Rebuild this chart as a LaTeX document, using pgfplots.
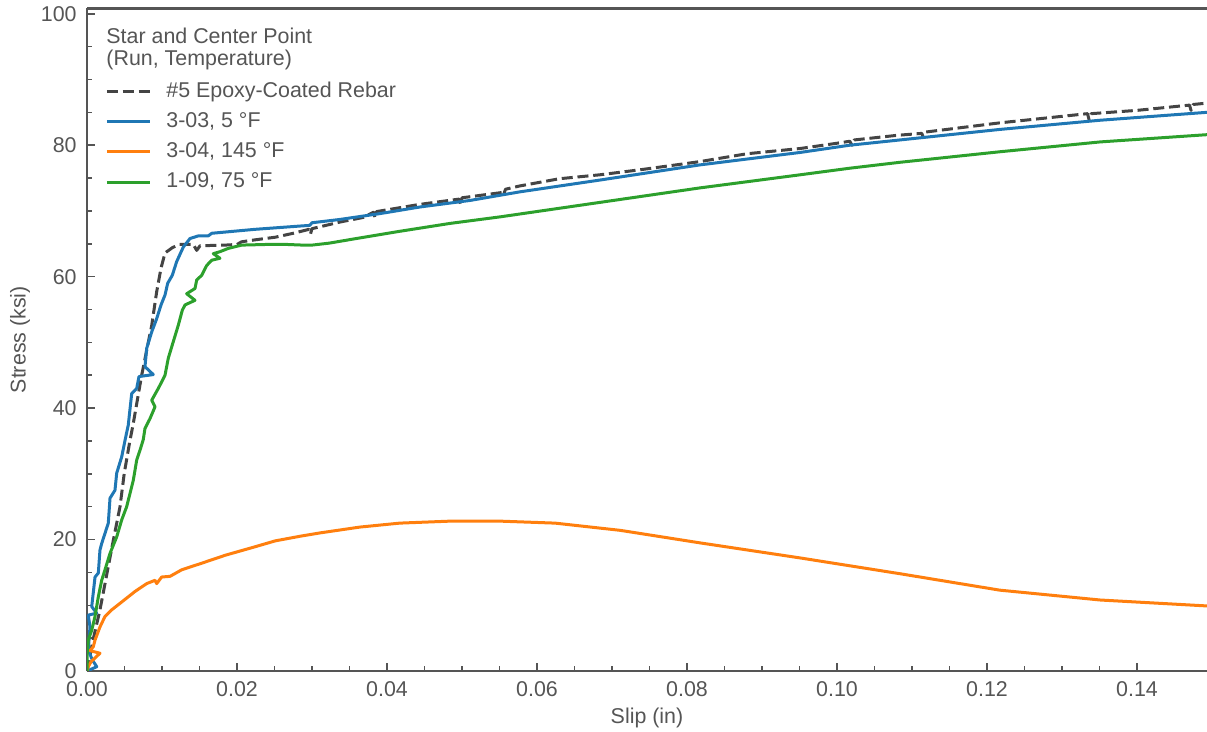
\documentclass[border=0pt]{standalone}
\usepackage{fontspec}
\setmainfont{Liberation Sans}
\usepackage{pgfplots}
\pgfplotsset{compat=1.18}
\definecolor{txt}{HTML}{555555}
\definecolor{spine}{HTML}{555555}
\definecolor{cblue}{HTML}{1F77B4}
\definecolor{corange}{HTML}{FF7F0E}
\definecolor{cgreen}{HTML}{2CA02C}
\definecolor{cdash}{HTML}{444444}
\begin{document}
\fontsize{10.7bp}{12.5bp}\selectfont
\begin{tikzpicture}
\begin{axis}[
  scale only axis, width=560bp, height=331.25bp,
  xmin=0, xmax=0.14933, ymin=0, ymax=100.8,
  axis x line*=box, axis y line*=left,
  xtick pos=left, ytick pos=left,
  axis line style={spine, line width=1.2bp, -},
  xtick={0,0.02,0.04,0.06,0.08,0.10,0.12,0.14},
  xticklabels={0.00,0.02,0.04,0.06,0.08,0.10,0.12,0.14},
  ytick={0,20,40,60,80,100},
  yticklabels={0,20,40,60,80,100},
  minor x tick num=3, minor y tick num=3,
  tick align=inside,
  major tick length=4.25bp, minor tick length=2.5bp,
  every tick/.style={spine, line width=0.75bp},
  scaled x ticks=false, scaled y ticks=false,
  ticklabel style={font=\fontsize{10.7bp}{12bp}\selectfont, text=txt, inner sep=0pt},
  xticklabel style={yshift=-5.3bp},
  yticklabel style={xshift=-5bp},
  xlabel={Slip (in)},
  ylabel={Stress (ksi)},
  xlabel style={at={(axis description cs:0.5,-0.0709)}, anchor=center, inner sep=0pt, text=txt},
  ylabel style={at={(axis description cs:-0.0598,0.5)}, anchor=center, inner sep=0pt, text=txt},
  legend style={at={(axis description cs:0.0161,0.8904)}, anchor=north west, draw=none, fill=none,
     inner sep=0pt, row sep=5.1bp, column sep=7.5bp, text=txt,
     nodes={inner sep=0pt, text height=7.8bp, text depth=2.2bp},
     font=\fontsize{10.7bp}{12bp}\selectfont},
  legend cell align=left,
  legend image code/.code={\draw[#1] (0bp,0bp) -- (21.5bp,0bp);},
  every axis plot/.append style={line width=1.5bp, line join=round},
]
% #5 Epoxy-Coated Rebar
\addplot[cdash, dash pattern=on 5.5bp off 2.4bp] coordinates {
(0,0) (0.0001,0.5) (0.0008,4.7) (0.00173,9.3) (0.00267,14.9) (0.00351,19.9) (0.0044,25.0)
(0.00497,30.1) (0.00573,35.1) (0.00613,37.4) (0.00729,45.0) (0.00863,52.6) (0.00929,57.7)
(0.00987,61.3) (0.0104,63.6) (0.01137,64.4) (0.0123,64.9) (0.01417,64.9) (0.01463,64.0)
(0.01507,64.7) (0.0184,64.8) (0.0200,64.9) (0.0206,65.3) (0.0224,65.6) (0.0251,66.0)
(0.0275,66.6) (0.0296,67.2) (0.0298,66.5) (0.0300,67.3) (0.0337,68.3) (0.0368,69.0)
(0.0382,69.8) (0.0384,69.0) (0.0386,69.9) (0.0444,71.0) (0.0496,71.8) (0.0498,71.0)
(0.0500,72.0) (0.0553,72.8) (0.0555,72.3) (0.0558,73.3) (0.0577,73.8) (0.0630,74.9)
(0.0684,75.5) (0.0740,76.3) (0.0817,77.5) (0.0880,78.7) (0.0951,79.5) (0.1000,80.3)
(0.1017,80.6) (0.1020,80.0) (0.1023,80.8) (0.1080,81.5) (0.1113,81.8) (0.1115,81.2)
(0.1118,82.0) (0.1217,83.4) (0.1334,84.8) (0.1336,83.9) (0.1339,84.8) (0.1400,85.3)
(0.1470,86.1) (0.1472,85.3) (0.1475,86.2) (0.1493,86.4) (0.1500,86.5)
};
\addlegendentry{\#5 Epoxy-Coated Rebar}
% 3-03, 5 F
\addplot[cblue] coordinates {
(0,0) (0.0013,0.65) (0.0007,1.7) (0.00017,3.2) (0.0004,6.7) (0.00017,8.5) (0.00129,8.8)
(0.00063,9.8) (0.00107,14.3) (0.00151,14.9) (0.00173,18.4) (0.00196,19.4) (0.00284,22.5)
(0.00307,26.3) (0.00373,27.5) (0.00396,30.1) (0.00463,32.6) (0.00507,35.1) (0.0055,37.4)
(0.00596,42.2) (0.00663,43.0) (0.00693,44.8) (0.00884,45.1) (0.00773,46.3) (0.00796,49.1)
(0.00863,51.6) (0.00929,53.6) (0.00987,55.7) (0.0104,57.2) (0.01076,59.0) (0.01137,60.2)
(0.01196,62.3) (0.01284,64.5) (0.01373,65.8) (0.01484,66.2) (0.01617,66.2) (0.01663,66.6)
(0.0224,67.2) (0.0284,67.7) (0.0297,67.8) (0.0300,68.2) (0.0337,68.7) (0.0391,69.6)
(0.0444,70.6) (0.0511,71.6) (0.0577,72.9) (0.0684,74.7) (0.0817,77.0) (0.0951,78.9)
(0.1017,80.0) (0.1084,80.8) (0.1217,82.4) (0.1351,83.8) (0.1493,85.0) (0.1500,85.1)
};
\addlegendentry{3-03, 5 °F}
% 3-04, 145 F
\addplot[corange] coordinates {
(0,0) (0.00017,0.65) (0.00053,1.4) (0.00173,2.7) (0.0004,3.1) (0.00084,3.7) (0.00107,4.7)
(0.00173,6.7) (0.0024,8.3) (0.00329,9.3) (0.00463,10.5) (0.0064,12.1) (0.00796,13.3)
(0.00907,13.8) (0.00929,13.3) (0.00996,14.3) (0.01107,14.4) (0.01263,15.4) (0.01529,16.4)
(0.0184,17.6) (0.0224,18.9) (0.0251,19.8) (0.0284,20.5) (0.031,21.0) (0.0364,21.9)
(0.0417,22.5) (0.0484,22.8) (0.0551,22.8) (0.0624,22.5) (0.0711,21.4) (0.0817,19.5)
(0.0951,17.2) (0.1084,14.8) (0.1217,12.3) (0.1351,10.8) (0.1493,9.9) (0.1500,9.85)
};
\addlegendentry{3-04, 145 °F}
% 1-09, 75 F
\addplot[cgreen] coordinates {
(0,0) (0.0,2.2) (0.00017,4.7) (0.00063,6.2) (0.00107,8.3) (0.00151,11.3) (0.00196,13.8)
(0.0024,15.4) (0.00307,17.9) (0.00396,20.4) (0.00463,23.0) (0.00529,25.0) (0.00617,29.0)
(0.00663,32.1) (0.00707,33.6) (0.0075,35.2) (0.00773,36.9) (0.0084,38.4) (0.00907,40.2)
(0.00863,41.2) (0.00951,43.0) (0.00996,44.0) (0.0104,45.0) (0.01084,47.6) (0.01137,49.6)
(0.01217,52.6) (0.01271,54.9) (0.01307,55.7) (0.0144,56.4) (0.01329,57.4) (0.0144,58.2)
(0.01463,59.5) (0.01529,60.2) (0.01596,61.7) (0.01663,62.5) (0.01773,62.8) (0.01684,63.5)
(0.01773,63.8) (0.01884,64.3) (0.02063,64.8) (0.0240,64.9) (0.0266,64.9) (0.0288,64.8)
(0.0300,64.8) (0.0323,65.1) (0.0359,65.8) (0.0417,66.9) (0.0484,68.1) (0.0551,69.1)
(0.0684,71.3) (0.0817,73.5) (0.0951,75.5) (0.1017,76.5) (0.1084,77.4) (0.1217,79.0)
(0.1351,80.5) (0.1493,81.6) (0.1500,81.7)
};
\addlegendentry{1-09, 75 °F}
\node[anchor=base west, inner sep=0pt, text=txt] at (axis description cs:0.017,0.9475) {Star and Center Point};
\node[anchor=base west, inner sep=0pt, text=txt] at (axis description cs:0.017,0.9147) {(Run, Temperature)};
\end{axis}
\pgfresetboundingbox
\path[use as bounding box] ([xshift=-43.5bp,yshift=-30.5bp]current axis.south west) rectangle ([yshift=4.25bp]current axis.north east);
\end{tikzpicture}
\end{document}
